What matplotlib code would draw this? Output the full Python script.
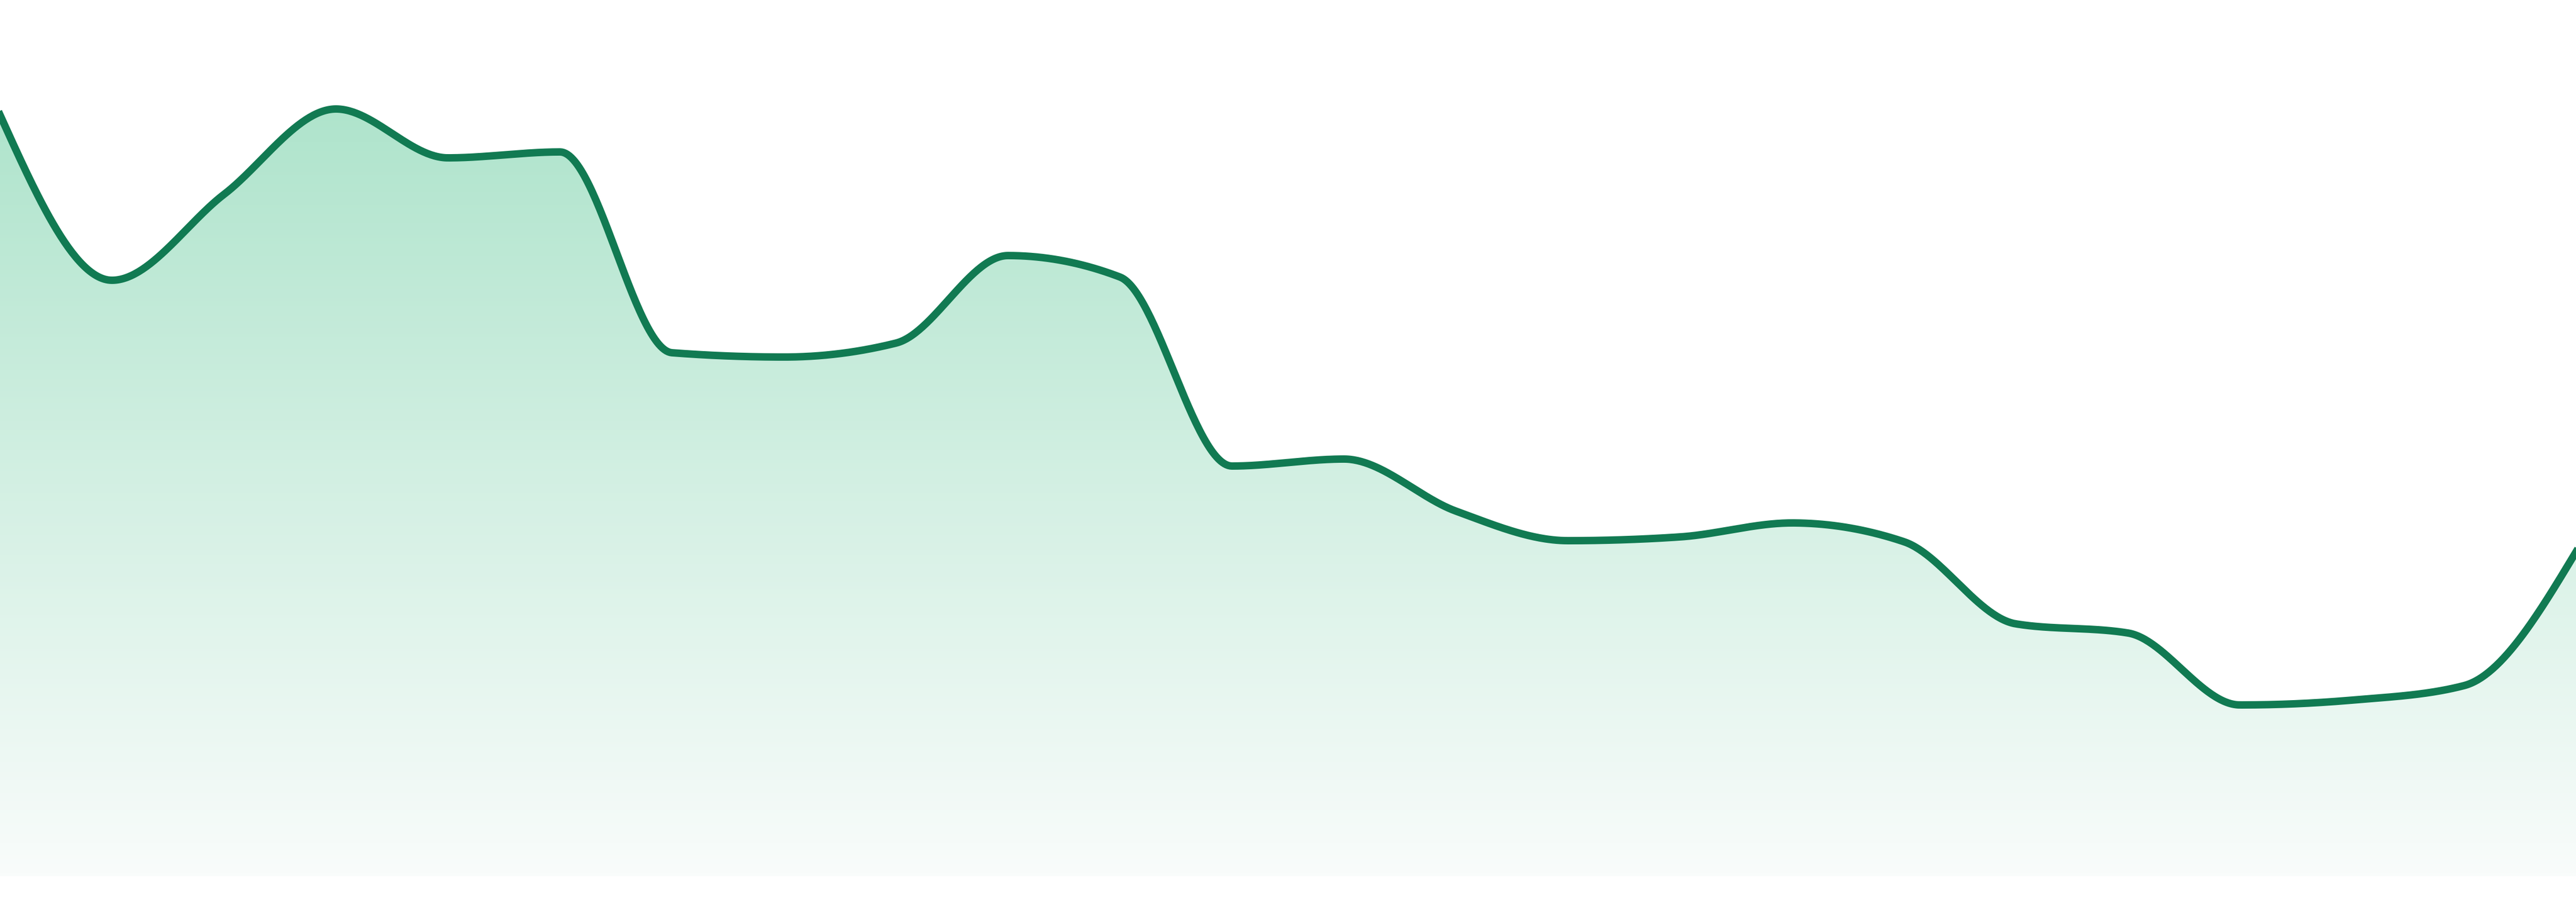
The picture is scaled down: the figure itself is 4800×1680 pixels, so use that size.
import numpy as np
import matplotlib
matplotlib.use("Agg")
import matplotlib.pyplot as plt
from matplotlib.colors import LinearSegmentedColormap

# series values (one point per step)
values = [141.8, 111.0, 127.0, 142.9, 133.8, 134.9, 97.5, 96.7, 99.3, 115.6,
          111.6, 76.4, 77.7, 68.0, 62.5, 63.2, 65.8, 62.3, 47.0, 45.3,
          31.9, 32.8, 35.5, 60.4]
steps = list(range(len(values)))

line_color = "#117a52"
fill_top = "#afe4cc"
fill_bottom = "#f9fcfb"


def monotone_x(x, y, n=60):
    # same maths as d3 curveMonotoneX
    x = np.asarray(x, float)
    y = np.asarray(y, float)
    sgn = lambda v: -1.0 if v < 0 else 1.0
    m = len(x)
    t = np.zeros(m)
    for i in range(1, m - 1):
        h0 = x[i] - x[i - 1]
        h1 = x[i + 1] - x[i]
        s0 = (y[i] - y[i - 1]) / h0
        s1 = (y[i + 1] - y[i]) / h1
        p = (s0 * h1 + s1 * h0) / (h0 + h1)
        t[i] = (sgn(s0) + sgn(s1)) * min(abs(s0), abs(s1), 0.5 * abs(p))
    t[0] = (3 * (y[1] - y[0]) / (x[1] - x[0]) - t[1]) / 2
    t[-1] = (3 * (y[-1] - y[-2]) / (x[-1] - x[-2]) - t[-2]) / 2
    xs, ys = [], []
    u = np.linspace(0, 1, n)
    for i in range(m - 1):
        dx = (x[i + 1] - x[i]) / 3
        px = [x[i], x[i] + dx, x[i + 1] - dx, x[i + 1]]
        py = [y[i], y[i] + dx * t[i], y[i + 1] - dx * t[i + 1], y[i + 1]]
        bx = ((1 - u) ** 3 * px[0] + 3 * (1 - u) ** 2 * u * px[1]
              + 3 * (1 - u) * u ** 2 * px[2] + u ** 3 * px[3])
        by = ((1 - u) ** 3 * py[0] + 3 * (1 - u) ** 2 * u * py[1]
              + 3 * (1 - u) * u ** 2 * py[2] + u ** 3 * py[3])
        xs.extend(bx[:-1] if i < m - 2 else bx)
        ys.extend(by[:-1] if i < m - 2 else by)
    return np.array(xs), np.array(ys)


cx, cy = monotone_x(steps, values)

fig = plt.figure(figsize=(48, 16.8), dpi=100)
ax = fig.add_axes([0, 0, 1, 1])
ax.set_xlim(0, len(values) - 1)
ax.set_ylim(-4.8, 163.2)   # small white strip under the area
ax.axis("off")

# gradient fill under the curve
area = ax.fill_between(cx, cy, 0, facecolor="none", edgecolor="none")
cmap = LinearSegmentedColormap.from_list("g", [fill_bottom, fill_top])
top = max(values)
grad = np.linspace(0, 1, 256).reshape(-1, 1)
img = ax.imshow(grad, cmap=cmap, aspect="auto", origin="lower",
                extent=[0, len(values) - 1, 0, top], zorder=1)
img.set_clip_path(area.get_paths()[0], transform=ax.transData)

ax.plot(cx, cy, color=line_color, linewidth=10, solid_joinstyle="round", zorder=2)

fig.savefig("out.png", dpi=100, facecolor="white")
